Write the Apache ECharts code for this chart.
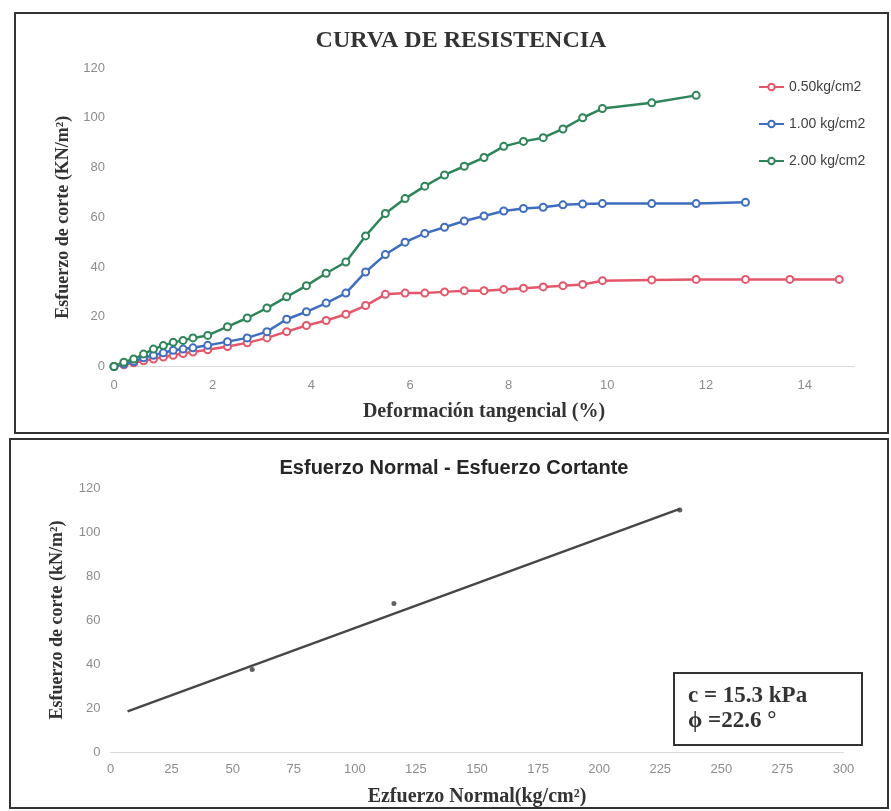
<!DOCTYPE html>
<html>
<head>
<meta charset="utf-8">
<script src="https://cdn.jsdelivr.net/npm/echarts@6/dist/echarts.min.js"></script>
<style>
  html, body { margin: 0; padding: 0; background: #fff; }
  #chart { width: 891px; height: 811px; }
</style>
</head>
<body>
<div id="chart"></div>
<script>
// curva de resistencia: deformación (%) vs esfuerzo de corte (kN/m2)
const defRed = [0, 0.2, 0.4, 0.6, 0.8, 1.0, 1.2, 1.4, 1.6, 1.9, 2.3, 2.7, 3.1, 3.5, 3.9, 4.3, 4.7, 5.1, 5.5, 5.9,
  6.3, 6.7, 7.1, 7.5, 7.9, 8.3, 8.7, 9.1, 9.5, 9.9, 10.9, 11.8, 12.8, 13.7, 14.7];
const shearRed = [0, 0.7, 1.5, 2.3, 3, 3.8, 4.5, 5.2, 5.8, 6.7, 8, 9.5, 11.5, 14, 16.5, 18.5, 21, 24.5, 29, 29.5,
  29.5, 30, 30.5, 30.5, 31, 31.5, 32, 32.5, 33, 34.5, 34.8, 35, 35, 35, 35];

const defBlue = [0, 0.2, 0.4, 0.6, 0.8, 1.0, 1.2, 1.4, 1.6, 1.9, 2.3, 2.7, 3.1, 3.5, 3.9, 4.3, 4.7, 5.1, 5.5, 5.9,
  6.3, 6.7, 7.1, 7.5, 7.9, 8.3, 8.7, 9.1, 9.5, 9.9, 10.9, 11.8, 12.8];
const shearBlue = [0, 1, 2, 3.5, 4.5, 5.5, 6.5, 7, 7.5, 8.5, 10, 11.5, 14, 19, 22, 25.5, 29.5, 38, 45, 50,
  53.5, 56, 58.5, 60.5, 62.5, 63.5, 64, 65, 65.3, 65.5, 65.5, 65.5, 66];

const defGreen = [0, 0.2, 0.4, 0.6, 0.8, 1.0, 1.2, 1.4, 1.6, 1.9, 2.3, 2.7, 3.1, 3.5, 3.9, 4.3, 4.7, 5.1, 5.5, 5.9,
  6.3, 6.7, 7.1, 7.5, 7.9, 8.3, 8.7, 9.1, 9.5, 9.9, 10.9, 11.8];
const shearGreen = [0, 1.7, 3, 5, 7, 8.4, 9.7, 10.5, 11.5, 12.5, 16, 19.5, 23.5, 28, 32.5, 37.5, 42, 52.5, 61.5, 67.5,
  72.5, 77, 80.5, 84, 88.5, 90.5, 92, 95.5, 100, 103.7, 106, 109];

const seriesNames = ['0.50kg/cm2', '1.00 kg/cm2', '2.00 kg/cm2'];

// envolvente de falla
const normalStress = [58, 116, 233];
const peakShear = [37.5, 67.5, 110];
const envelopeX = [7, 233];
const envelopeY = [18.5, 110.5];

const serif = '"Liberation Serif", "DejaVu Serif", serif';
const sans = '"Liberation Sans", "DejaVu Sans", sans-serif';
const colors = ['#e4566a', '#3f6dbf', '#2f8559'];

const zip = (xs, ys) => xs.map((x, i) => [x, ys[i]]);

const chart = echarts.init(document.getElementById('chart'), null, { renderer: 'canvas' });

const tickLabel = { color: '#8c8c8c', fontSize: 13, fontFamily: sans };
const xName = { fontFamily: serif, fontWeight: 'bold', fontSize: 20, color: '#333' };
const yName = { fontFamily: serif, fontWeight: 'bold', fontSize: 18, color: '#333' };

function curve(name, xs, ys, color) {
  return {
    name: name,
    type: 'line',
    xAxisIndex: 0,
    yAxisIndex: 0,
    data: zip(xs, ys),
    symbol: 'emptyCircle',
    symbolSize: 7,
    lineStyle: { width: 2.5, color: color },
    itemStyle: { color: color, borderWidth: 1.5 }
  };
}

const option = {
  animation: false,
  backgroundColor: '#fff',
  graphic: [
    // marcos
    { type: 'rect', shape: { x: 15, y: 13, width: 873, height: 420 }, style: { fill: 'none', stroke: '#333', lineWidth: 2 } },
    { type: 'rect', shape: { x: 10, y: 439, width: 878, height: 369 }, style: { fill: 'none', stroke: '#333', lineWidth: 2 } },
    // titulos
    { type: 'text', x: 461, y: 41, style: { text: 'CURVA DE RESISTENCIA', align: 'center', verticalAlign: 'middle',
      font: 'bold 24px ' + serif, fill: '#333' } },
    { type: 'text', x: 454, y: 468, style: { text: 'Esfuerzo Normal - Esfuerzo Cortante', align: 'center', verticalAlign: 'middle',
      font: 'bold 20px ' + sans, fill: '#262626' } },
    // cuadro de parametros
    { type: 'rect', z: 10, shape: { x: 674, y: 673, width: 188, height: 72 }, style: { fill: '#fff', stroke: '#333', lineWidth: 2 } },
    { type: 'text', z: 11, x: 688, y: 696, style: { text: 'c = 15.3 kPa', verticalAlign: 'middle', font: 'bold 23px ' + serif, fill: '#333' } },
    { type: 'text', z: 11, x: 688, y: 721, style: { text: 'ϕ =22.6 °', verticalAlign: 'middle', font: 'bold 23px ' + serif, fill: '#333' } }
  ],
  legend: {
    orient: 'vertical',
    left: 758,
    top: 80,
    padding: 0,
    itemWidth: 25,
    itemHeight: 8,
    itemGap: 23,
    data: seriesNames,
    textStyle: { fontFamily: sans, fontSize: 14, color: '#404040' }
  },
  grid: [
    { left: 114, top: 68, width: 740, height: 298.5 },
    { left: 110.5, top: 488, width: 733, height: 264 }
  ],
  xAxis: [
    {
      type: 'value', gridIndex: 0, min: 0, max: 15, interval: 2,
      name: 'Deformación tangencial (%)', nameLocation: 'middle', nameGap: 35, nameTextStyle: xName,
      axisLine: { show: true, lineStyle: { color: '#d9d9d9', width: 1 } },
      axisTick: { show: false },
      splitLine: { show: false },
      axisLabel: Object.assign({ margin: 12, showMaxLabel: false }, tickLabel)
    },
    {
      type: 'value', gridIndex: 1, min: 0, max: 300, interval: 25,
      name: 'Ezfuerzo Normal(kg/cm²)', nameLocation: 'middle', nameGap: 35, nameTextStyle: xName,
      axisLine: { show: true, lineStyle: { color: '#d9d9d9', width: 1 } },
      axisTick: { show: false },
      splitLine: { show: false },
      axisLabel: Object.assign({ margin: 11 }, tickLabel)
    }
  ],
  yAxis: [
    {
      type: 'value', gridIndex: 0, min: 0, max: 120, interval: 20,
      name: 'Esfuerzo de corte (KN/m²)', nameLocation: 'middle', nameGap: 40, nameTextStyle: yName,
      axisLine: { show: false }, axisTick: { show: false }, splitLine: { show: false },
      axisLabel: Object.assign({ margin: 9 }, tickLabel)
    },
    {
      type: 'value', gridIndex: 1, min: 0, max: 120, interval: 20,
      name: 'Esfuerzo de corte (kN/m²)', nameLocation: 'middle', nameGap: 44, nameTextStyle: yName,
      axisLine: { show: false }, axisTick: { show: false }, splitLine: { show: false },
      axisLabel: Object.assign({ margin: 10 }, tickLabel)
    }
  ],
  series: [
    curve(seriesNames[0], defRed, shearRed, colors[0]),
    curve(seriesNames[1], defBlue, shearBlue, colors[1]),
    curve(seriesNames[2], defGreen, shearGreen, colors[2]),
    {
      type: 'line',
      xAxisIndex: 1,
      yAxisIndex: 1,
      data: zip(envelopeX, envelopeY),
      symbol: 'none',
      lineStyle: { width: 2.5, color: '#474747' }
    },
    {
      type: 'scatter',
      xAxisIndex: 1,
      yAxisIndex: 1,
      data: zip(normalStress, peakShear),
      symbolSize: 5,
      itemStyle: { color: '#3a3a3a' }
    }
  ]
};

chart.setOption(option);
</script>
</body>
</html>
